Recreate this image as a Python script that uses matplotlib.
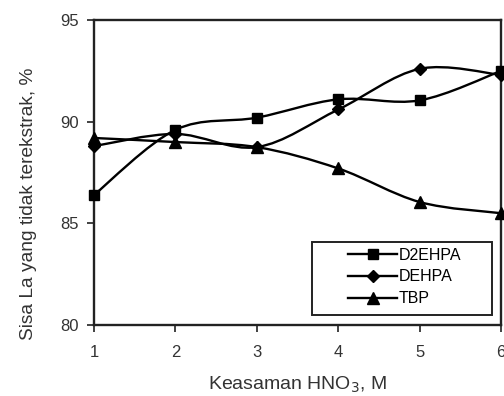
import numpy as np
import matplotlib
matplotlib.use("Agg")
import matplotlib.pyplot as plt
from matplotlib.path import Path
from matplotlib.patches import PathPatch, Rectangle

plt.rcParams['font.family'] = ['Liberation Sans', 'DejaVu Sans']

x = [1, 2, 3, 4, 5, 6]
d2ehpa = [86.4, 89.6, 90.2, 91.1, 91.05, 92.5]
dehpa = [88.8, 89.4, 88.75, 90.6, 92.6, 92.3]
tbp = [89.2, 89.0, 88.75, 87.7, 86.05, 85.5]

series = [("D2EHPA", d2ehpa, "s", 7.5), ("DEHPA", dehpa, "D", 6.5), ("TBP", tbp, "^", 8)]

fig = plt.figure(figsize=(5.04, 3.96), dpi=100)
ax = fig.add_axes([0.1865, 0.179, 0.808, 0.7705])


def smooth_path(xs, ys, t=0.5):
    # Catmull-Rom style cubic Bezier through data points (Excel-like smoothing)
    xs = np.asarray(xs, float); ys = np.asarray(ys, float)
    n = len(xs)
    verts = [(xs[0], ys[0])]
    codes = [Path.MOVETO]
    for i in range(n - 1):
        p0 = np.array([xs[max(i - 1, 0)], ys[max(i - 1, 0)]])
        p1 = np.array([xs[i], ys[i]])
        p2 = np.array([xs[i + 1], ys[i + 1]])
        p3 = np.array([xs[min(i + 2, n - 1)], ys[min(i + 2, n - 1)]])
        c1 = p1 + (p2 - p0) * t / 3
        c2 = p2 - (p3 - p1) * t / 3
        verts += [tuple(c1), tuple(c2), tuple(p2)]
        codes += [Path.CURVE4] * 3
    return Path(verts, codes)


for name, ys, m, ms in series:
    ax.add_patch(PathPatch(smooth_path(x, ys), fill=False, edgecolor='black', lw=1.7, zorder=2))
    ax.plot(x, ys, linestyle='none', marker=m, markersize=ms, color='black', zorder=3, clip_on=False)
    ax.plot([], [], color='black', lw=1.7, marker=m, markersize=ms, label=name)

ax.set_xlim(1, 6)
ax.set_ylim(80, 95)
ax.set_xticks([1, 2, 3, 4, 5, 6])
ax.set_yticks([80, 85, 90, 95])
ax.tick_params(direction='out', length=5, width=1.3, labelsize=12, colors='#333333')
ax.tick_params(axis='x', pad=9)
ax.tick_params(axis='y', pad=6)
for s in ax.spines.values():
    s.set_linewidth(1.7)
    s.set_color('#222222')

ax.set_xlabel("Keasaman HNO$_3$, M", fontsize=14, color='#333333', labelpad=11)
ax.set_ylabel("Sisa La yang tidak terekstrak, %", fontsize=13.8, color='#333333')
ax.yaxis.set_label_coords(-0.140, 0.397)

# legend frame (drawn separately to match the wide padding of the original)
ax.add_patch(Rectangle((0.536, 0.033), 0.442, 0.239, transform=ax.transAxes, fill=False,
                       edgecolor='#222222', lw=1.4, zorder=4))
leg = ax.legend(loc='center left', bbox_to_anchor=(0.624, 0.158), frameon=False,
                fontsize=11.5, handlelength=3.07, borderpad=0.0,
                labelspacing=0.42, handletextpad=0.1, borderaxespad=0.0)

fig.savefig("out.png", dpi=100)
